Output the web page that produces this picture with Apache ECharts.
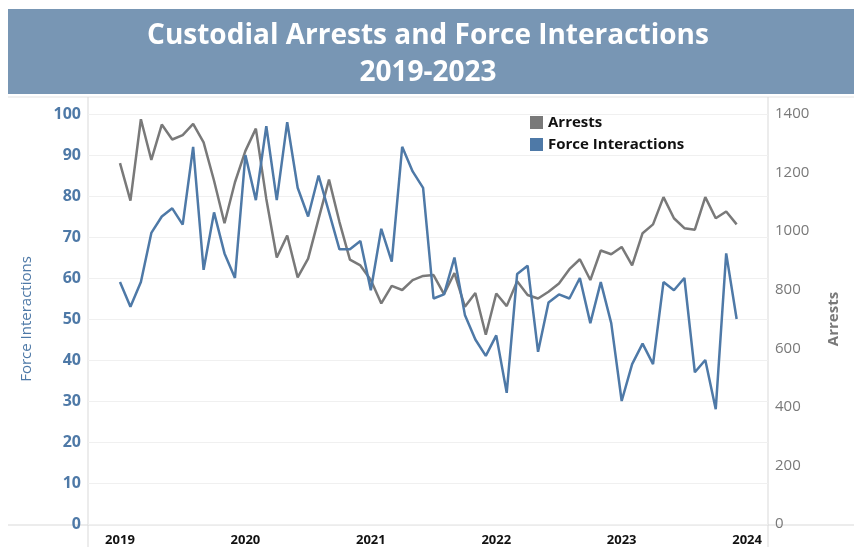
<!DOCTYPE html>
<head>
    <meta charset="utf-8">
    <script type="text/javascript" src="https://cdn.jsdelivr.net/npm/echarts@6/dist/echarts.min.js"></script>
    <style>
        body { margin: 0; background: #fff; }
    </style>
</head>
<body>
	<div id="main" style="width:854px; height:547px"></div>
	<script type="text/javascript">
		// monthly values, Jan 2019 .. Dec 2023
		var force = [59, 53, 59, 71, 75, 77, 73, 92, 62, 76, 66, 60,
			90, 79, 97, 79, 98, 82, 75, 85, 76, 67, 67, 69,
			57, 72, 64, 92, 86, 82, 55, 56, 65, 51, 45, 41,
			46, 32, 61, 63, 42, 54, 56, 55, 60, 49, 59, 49,
			30, 39, 44, 39, 59, 57, 60, 37, 40, 28, 66, 50];
		var arrests = [1232, 1104, 1382, 1243, 1364, 1313, 1328, 1366, 1303, 1172, 1027, 1167,
			1274, 1350, 1110, 910, 985, 842, 906, 1042, 1176, 1031, 903, 883,
			833, 753, 813, 799, 833, 847, 850, 785, 857, 742, 789, 646,
			787, 744, 829, 782, 770, 793, 821, 870, 904, 833, 934, 921,
			946, 883, 993, 1023, 1116, 1044, 1010, 1005, 1116, 1044, 1067, 1023];
		var years = ['2019', '2020', '2021', '2022', '2023', '2024'];
		var yearTicks = [0, 12, 24, 36, 48, 60];

		var blue = '#4e79a7';
		var gray = '#797979';
		var font = '"Open Sans", "Noto Sans", sans-serif';

		var forceData = force.map(function (v, i) { return [i, v]; });
		var arrestData = arrests.map(function (v, i) { return [i, v]; });

		var myChart = echarts.init(document.getElementById('main'));
		var option = {
			animation: false,
			textStyle: { fontFamily: font },
			grid: { left: 88, right: 86, top: 114, bottom: 22, containLabel: false },
			legend: {
				left: 525, top: 110, orient: 'vertical', itemGap: 7,
				itemWidth: 13, itemHeight: 13, icon: 'rect',
				textStyle: { fontWeight: 'bold', fontSize: 15, color: '#111', fontFamily: font },
				data: ['Arrests', 'Force Interactions']
			},
			xAxis: {
				type: 'value', min: -3.06, max: 62,
				axisLine: { show: false },
				axisTick: { show: false },
				splitLine: { show: false },
				axisLabel: {
					customValues: yearTicks,
					formatter: function (v) { return years[yearTicks.indexOf(v)]; },
					color: '#111', fontWeight: 'bold', fontSize: 13, margin: 10
				}
			},
			yAxis: [
				{
					type: 'value', min: 0, max: 100, interval: 10,
					name: 'Force Interactions', nameLocation: 'middle', nameGap: 54,
					nameTextStyle: { color: blue, fontSize: 15 },
					axisLine: { show: false },
					axisTick: { show: false },
					axisLabel: { color: blue, fontWeight: 'bold', fontSize: 16, margin: 7 },
					splitLine: { lineStyle: { color: '#f0f0f0' } }
				},
				{
					type: 'value', min: 0, max: 1400, interval: 200,
					name: 'Arrests', nameLocation: 'middle', nameGap: 58,
					nameTextStyle: { color: gray, fontSize: 15, fontWeight: 'bold' },
					axisLine: { show: false },
					axisTick: { show: false },
					axisLabel: {
						color: gray, fontSize: 15, margin: 7,
						formatter: function (v) { return String(v); }
					},
					splitLine: { show: false }
				}
			],
			graphic: [
				{ type: 'rect', shape: { x: 8, y: 9, width: 846, height: 85 }, style: { fill: '#7896b4' } },
				{ type: 'line', shape: { x1: 8, y1: 97, x2: 854, y2: 97 }, style: { stroke: '#e3e3e3', lineWidth: 1 } },
				{ type: 'line', shape: { x1: 88, y1: 97, x2: 88, y2: 547 }, style: { stroke: '#d9d9d9', lineWidth: 1 } },
				{ type: 'line', shape: { x1: 768, y1: 97, x2: 768, y2: 547 }, style: { stroke: '#d9d9d9', lineWidth: 1 } },
				{ type: 'line', shape: { x1: 8, y1: 525, x2: 854, y2: 525 }, style: { stroke: '#d9d9d9', lineWidth: 1 } },
				{
					type: 'text', x: 428, y: 36,
					style: { text: 'Custodial Arrests and Force Interactions', fill: '#fff', font: 'bold 28px ' + font, textAlign: 'center', textVerticalAlign: 'middle' }
				},
				{
					type: 'text', x: 428, y: 73,
					style: { text: '2019-2023', fill: '#fff', font: 'bold 28px ' + font, textAlign: 'center', textVerticalAlign: 'middle' }
				}
			],
			series: [
				{
					name: 'Arrests', type: 'line', yAxisIndex: 1, data: arrestData,
					showSymbol: false, itemStyle: { color: gray },
					lineStyle: { color: gray, width: 2.5 }
				},
				{
					name: 'Force Interactions', type: 'line', yAxisIndex: 0, data: forceData,
					showSymbol: false, itemStyle: { color: blue },
					lineStyle: { color: blue, width: 2.5 }
				}
			]
		};

		myChart.setOption(option);
	</script>
</body>
